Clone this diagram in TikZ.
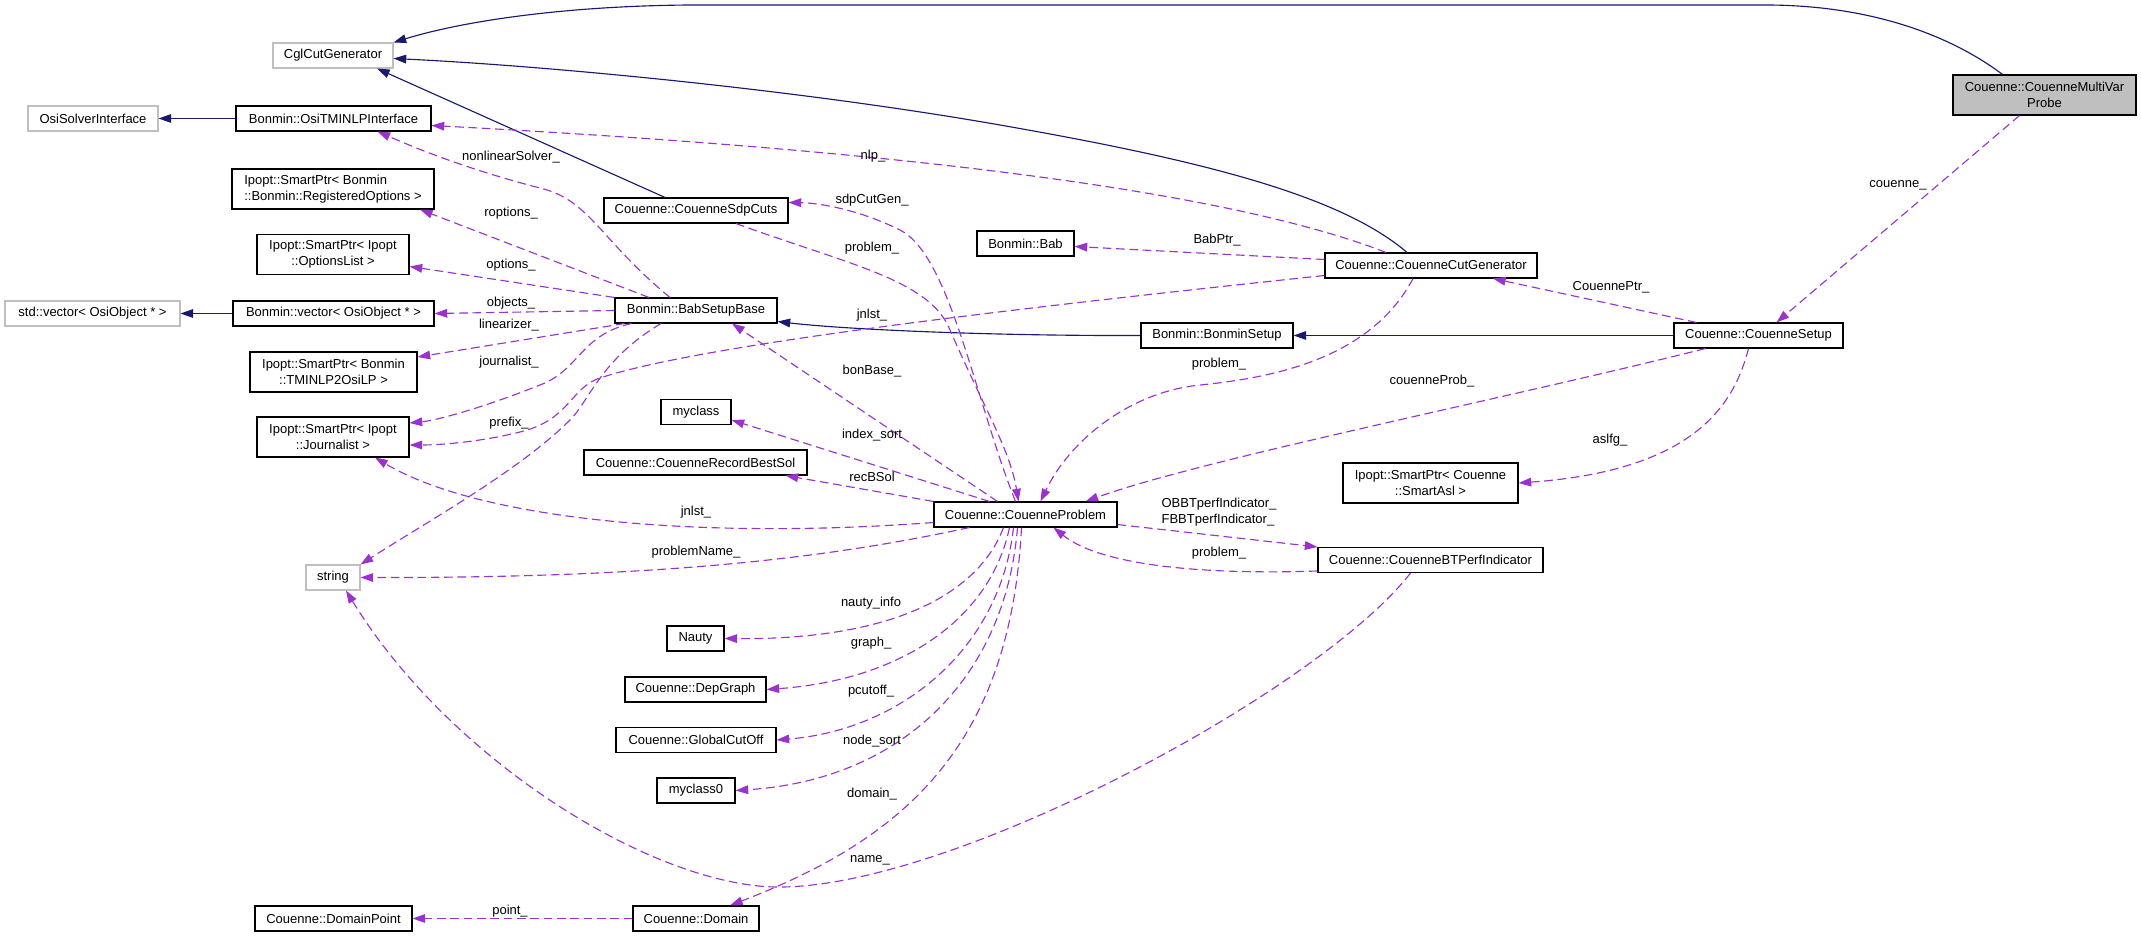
\documentclass[tikz,border=0pt]{standalone}
\usepackage{fontspec}
\setmainfont{Liberation Sans}
\usetikzlibrary{arrows.meta,calc}
\definecolor{doxblue}{HTML}{191970}
\definecolor{doxpurple}{HTML}{9A32CD}
\definecolor{doxgrey}{HTML}{BFBFBF}

\begin{document}
\begin{tikzpicture}[x=0.75pt, y=-0.75pt,
	every node/.style={font=\fontsize{9.75}{11.8}\selectfont},
	cls/.style={draw=black, fill=white, line width=0.8pt, inner sep=0pt, minimum height=18.75pt, align=center},
	extcls/.style={cls, draw=doxgrey},
	wd/.style={minimum width=#1*0.75pt},
	tall/.style={minimum height=30pt},
	inh/.style={draw=doxblue, line width=0.85pt, -{Triangle[length=9.5pt,width=6.5pt]}},
	uses/.style={draw=doxpurple, line width=0.85pt, dash pattern=on 6.5pt off 3.5pt, -{Triangle[length=9.5pt,width=6.5pt]}},
	lbl/.style={inner sep=0pt, align=left}]

	\useasboundingbox (0,0) rectangle (2141,937);

	% classes
	\node[cls, wd=183, tall, fill=doxgrey] (MultiVar) at (2044.5,95) {Couenne::CouenneMultiVar\\Probe};
	\node[extcls, wd=120] (Cgl) at (333,55.5) {CglCutGenerator};
	\node[extcls, wd=130] (OsiSI) at (93,118.5) {OsiSolverInterface};
	\node[cls, wd=195] (OsiTMINLP) at (333.5,118.5) {Bonmin::OsiTMINLPInterface};
	\node[cls, wd=202, tall, align=left] (RegOpt) at (333,189) {Ipopt::SmartPtr< Bonmin\\::Bonmin::RegisteredOptions >};
	\node[cls, wd=152, tall] (OptList) at (333,254.5) {Ipopt::SmartPtr< Ipopt\\::OptionsList >};
	\node[extcls, wd=175] (StdVec) at (92.5,313.5) {std::vector< OsiObject * >};
	\node[cls, wd=201] (BonVec) at (333.5,313.5) {Bonmin::vector< OsiObject * >};
	\node[cls, wd=167, tall] (TMINLP) at (333.5,372) {Ipopt::SmartPtr< Bonmin\\::TMINLP2OsiLP >};
	\node[cls, wd=152, tall] (Jnl) at (333,437) {Ipopt::SmartPtr< Ipopt\\::Journalist >};
	\node[extcls, wd=54] (Str) at (333,577.5) {string};
	\node[cls, wd=157] (DomPoint) at (333.5,918.5) {Couenne::DomainPoint};

	\node[cls, wd=184] (SdpCuts) at (696,210.5) {Couenne::CouenneSdpCuts};
	\node[cls, wd=162] (BabBase) at (696,310.5) {Bonmin::BabSetupBase};
	\node[cls, wd=70] (MyClass) at (696,412) {myclass};
	\node[cls, wd=223] (RecBest) at (695.5,462.5) {Couenne::CouenneRecordBestSol};
	\node[cls, wd=57] (Nauty) at (695.5,638.5) {Nauty};
	\node[cls, wd=141] (DepGraph) at (695.5,689.5) {Couenne::DepGraph};
	\node[cls, wd=160] (CutOff) at (696,740) {Couenne::GlobalCutOff};
	\node[cls, wd=78] (MyClassZero) at (696,790.5) {myclass0};
	\node[cls, wd=126] (Domain) at (696,918.5) {Couenne::Domain};

	\node[cls, wd=97] (Bab) at (1025.5,243.5) {Bonmin::Bab};
	\node[cls, wd=183] (Prob) at (1025.5,514.5) {Couenne::CouenneProblem};
	\node[cls, wd=152] (BonSetup) at (1217,335.5) {Bonmin::BonminSetup};
	\node[cls, wd=212] (CutGen) at (1431,265.5) {Couenne::CouenneCutGenerator};
	\node[cls, wd=175, tall] (SmartAsl) at (1430.5,483) {Ipopt::SmartPtr< Couenne\\::SmartAsl >};
	\node[cls, wd=225] (BTPerf) at (1430.5,560) {Couenne::CouenneBTPerfIndicator};
	\node[cls, wd=169] (Setup) at (1758.5,335.5) {Couenne::CouenneSetup};

	% inheritance
	\draw[inh] ($(MultiVar.north)+(-42,0)$) .. controls (1950,35) and (1870,5) .. (1765,5) -- (690,5) .. controls (560,6) and (460,22) .. (Cgl.north east);
	\draw[inh] ($(CutGen.north)+(-24,0)$) .. controls (1340,195) and (1200,160) .. (1000,125) .. controls (800,90) and (550,66) .. ($(Cgl.east)+(0,3)$);
	\draw[inh] ($(SdpCuts.north)+(-31,0)$) -- ($(Cgl.south)+(44,0)$);
	\draw[inh] (OsiTMINLP.west) -- (OsiSI.east);
	\draw[inh] (BonVec.west) -- (StdVec.east);
	\draw[inh] (BonSetup.west) .. controls (1000,336) and (850,330) .. ($(BabBase.south east)+(0,-2)$);
	\draw[inh] (Setup.west) -- (BonSetup.east);

	% members of CouenneMultiVarProbe, CouenneSetup, CouenneCutGenerator
	\draw[uses] ($(MultiVar.south)+(-25,0)$) -- ($(Setup.north)+(18,0)$);
	\draw[uses] ($(Setup.north)+(-62,0)$) -- ($(CutGen.south)+(62,0)$);
	\draw[uses] ($(Setup.south)+(-10,0)$) .. controls (1735,400) and (1700,470) .. (SmartAsl.east);
	\draw[uses] ($(Setup.south)+(-53,0)$) .. controls (1500,400) and (1200,460) .. ($(Prob.north)+(60,0)$);
	\draw[uses] ($(CutGen.south)+(-18,0)$) .. controls (1370,360) and (1270,378) .. (1200,385) .. controls (1130,392) and (1070,440) .. ($(Prob.north)+(15,0)$);
	\draw[uses] ($(CutGen.west)+(0,-6)$) -- ($(Bab.east)+(0,3)$);
	\draw[uses] ($(CutGen.north)+(-45,0)$) .. controls (1200,180) and (800,145) .. ($(OsiTMINLP.east)+(0,7)$);
	\draw[uses] ($(CutGen.west)+(0,10)$) .. controls (1000,310) and (700,345) .. (600,378) .. controls (570,388) and (570,420) .. (520,432) .. controls (480,442) and (440,445) .. ($(Jnl.east)+(0,8)$);

	% members of BabSetupBase
	\draw[uses] ($(BabBase.north)+(-26,0)$) .. controls (600,240) and (590,200) .. (540,188) .. controls (470,170) and (420,150) .. ($(OsiTMINLP.south)+(44,0)$);
	\draw[uses] ($(BabBase.north)+(-47,0)$) -- ($(RegOpt.south)+(87,0)$);
	\draw[uses] (BabBase.north west) -- ($(OptList.east)+(0,12)$);
	\draw[uses] (BabBase.west) -- (BonVec.east);
	\draw[uses] ($(BabBase.south west)+(10,0)$) -- ($(TMINLP.east)+(0,-15)$);
	\draw[uses] ($(BabBase.south west)+(17,0)$) .. controls (580,335) and (580,370) .. (540,385) .. controls (490,405) and (440,420) .. ($(Jnl.east)+(0,-14)$);
	\draw[uses] ($(BabBase.south)+(-35,0)$) .. controls (600,360) and (590,400) .. (570,420) .. controls (520,470) and (430,520) .. (Str.north east);

	% members of CouenneProblem
	\draw[uses] ($(Prob.north)+(-28,0)$) -- ($(BabBase.south)+(36,0)$);
	\draw[uses] ($(Prob.north)+(-10,0)$) .. controls (975,400) and (950,255) .. (900,230) .. controls (860,210) and (820,203) .. ($(SdpCuts.east)+(0,-8)$);
	\draw[uses] ($(SdpCuts.south)+(40,0)$) .. controls (850,265) and (930,280) .. (950,330) .. controls (985,410) and (1010,450) .. ($(Prob.north)+(-7,0)$);
	\draw[uses] ($(Prob.north)+(-36,0)$) -- ($(MyClass.east)+(0,8)$);
	\draw[uses] (Prob.north west) -- ($(RecBest.south)+(90,0)$);
	\draw[uses] ($(Prob.west)+(0,8)$) .. controls (700,540) and (480,520) .. ($(Jnl.south)+(42,0)$);
	\draw[uses] ($(Prob.south west)+(36,0)$) .. controls (820,560) and (650,578) .. (Str.east);
	\draw[uses] ($(Prob.south)+(-22,0)$) .. controls (980,590) and (900,640) .. (Nauty.east);
	\draw[uses] ($(Prob.south)+(-16,0)$) .. controls (990,620) and (900,680) .. (DepGraph.east);
	\draw[uses] ($(Prob.south)+(-12,0)$) .. controls (1000,650) and (900,730) .. (CutOff.east);
	\draw[uses] ($(Prob.south)+(-8,0)$) .. controls (1005,680) and (900,780) .. (MyClassZero.east);
	\draw[uses] ($(Prob.south)+(-4,0)$) .. controls (1010,750) and (900,840) .. ($(Domain.north)+(34,0)$);
	\draw[uses] ($(Prob.south east)+(0,-3)$) -- (BTPerf.north west);

	% members of CouenneBTPerfIndicator, Domain
	\draw[uses] ($(BTPerf.west)+(0,11)$) .. controls (1200,575) and (1100,565) .. ($(Prob.south)+(28,0)$);
	\draw[uses] ($(BTPerf.south)+(-20,0)$) .. controls (1320,690) and (950,890) .. (775,887) .. controls (650,884) and (450,760) .. ($(Str.south)+(13,0)$);
	\draw[uses] (Domain.west) -- (DomPoint.east);

	% labels
	\node[lbl] (lCouenne) at (1898,185) {couenne\_};
	\node[lbl] (lCouPtr) at (1611,287) {CouennePtr\_};
	\node[lbl] (lAslfg) at (1610,440) {aslfg\_};
	\node[lbl] (lCouProb) at (1432,381) {couenneProb\_};
	\node[lbl] (lProbCut) at (1219,364) {problem\_};
	\node[lbl] (lBabPtr) at (1217,240) {BabPtr\_};
	\node[lbl] (lNlp) at (873,156) {nlp\_};
	\node[lbl] (lJnlCut) at (872,315) {jnlst\_};
	\node[lbl] (lNonlin) at (511,157) {nonlinearSolver\_};
	\node[lbl] (lRopt) at (511,213) {roptions\_};
	\node[lbl] (lOpt) at (511,265) {options\_};
	\node[lbl] (lObj) at (511,303) {objects\_};
	\node[lbl] (lLin) at (509,325) {linearizer\_};
	\node[lbl] (lJournal) at (509,362) {journalist\_};
	\node[lbl] (lPrefix) at (509,423) {prefix\_};
	\node[lbl] (lSdp) at (872,200) {sdpCutGen\_};
	\node[lbl] (lProbSdp) at (872,248) {problem\_};
	\node[lbl] (lBonBase) at (872,371) {bonBase\_};
	\node[lbl] (lIndex) at (872,435) {index\_sort};
	\node[lbl] (lRecB) at (872,477) {recBSol};
	\node[lbl] (lJnlProb) at (696,512) {jnlst\_};
	\node[lbl] (lProbName) at (696,552) {problemName\_};
	\node[lbl] (lNauty) at (871,603) {nauty\_info};
	\node[lbl] (lGraph) at (871,643) {graph\_};
	\node[lbl] (lPcut) at (871,691) {pcutoff\_};
	\node[lbl] (lNodeSort) at (872,741) {node\_sort};
	\node[lbl] (lDomain) at (872,794) {domain\_};
	\node[lbl] (lName) at (870,860) {name\_};
	\node[lbl] (lPoint) at (510,911) {point\_};
	\node[lbl] (lBTInd) at (1219,512) {OBBTperfIndicator\_\\FBBTperfIndicator\_};
	\node[lbl] (lProbBT) at (1219,553) {problem\_};

\end{tikzpicture}
\end{document}
